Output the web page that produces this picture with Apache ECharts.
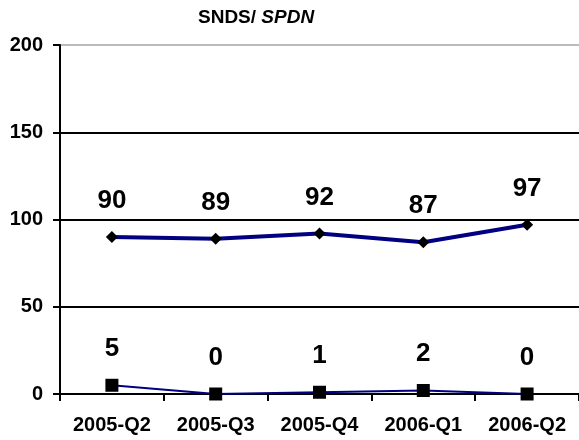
<!DOCTYPE html>
<html><head><meta charset="utf-8">
<script src="https://cdn.jsdelivr.net/npm/echarts@6/dist/echarts.min.js"></script>
<style>html,body{margin:0;padding:0;background:#fff}#c{width:579px;height:440px}</style>
</head><body><div id="c"></div>
<script>
const categories = ['2005-Q2','2005-Q3','2005-Q4','2006-Q1','2006-Q2'];
const snds = [90, 89, 92, 87, 97];
const spdn = [5, 0, 1, 2, 0];
const yTicks = [0, 50, 100, 150, 200];

const chart = echarts.init(document.getElementById('c'));
const F = 'Arial, "Liberation Sans", sans-serif';
chart.setOption({
  animation: false,
  backgroundColor: '#fff',
  title: {
    text: '{a|SNDS/ }{b|SPDN}',
    left: 196, top: 6, padding: [2, 2],
    textStyle: { rich: {
      a: { fontFamily: F, fontWeight: 'bold', fontSize: 19, color: '#000' },
      b: { fontFamily: F, fontWeight: 'bold', fontStyle: 'italic', fontSize: 19, color: '#000' }
    } }
  },
  grid: { left: 60, right: 0, top: 45, bottom: 46, show: false },
  xAxis: {
    type: 'category', data: categories, boundaryGap: true,
    axisLine: { lineStyle: { color: '#000', width: 2 } },
    axisTick: { show: true, length: 7, lineStyle: { color: '#000', width: 2 } },
    axisLabel: { fontFamily: F, fontWeight: 'bold', fontSize: 20, color: '#000', margin: 21 }
  },
  yAxis: {
    type: 'value', min: yTicks[0], max: yTicks[yTicks.length-1], interval: 50,
    axisLine: { show: true, lineStyle: { color: '#000', width: 2 } },
    axisTick: { show: true, length: 7, lineStyle: { color: '#000', width: 2 } },
    axisLabel: { fontFamily: F, fontWeight: 'bold', fontSize: 20, color: '#000', margin: 17 },
    splitLine: { show: true, lineStyle: { color: ['#000','#000','#000','#000','#bbb'], width: 2 } }
  },
  series: [
    {
      name: 'SNDS', type: 'line', data: snds,
      symbol: 'diamond', symbolSize: 12,
      lineStyle: { color: '#000080', width: 4 },
      itemStyle: { color: '#000' },
      label: { show: true, position: 'top', distance: 17, fontFamily: F, fontWeight: 'bold', fontSize: 26, color: '#000' }
    },
    {
      name: 'SPDN', type: 'line', data: spdn,
      symbol: 'rect', symbolSize: 13,
      lineStyle: { color: '#000080', width: 2 },
      itemStyle: { color: '#000' },
      label: { show: true, position: 'top', distance: 17, fontFamily: F, fontWeight: 'bold', fontSize: 26, color: '#000' }
    }
  ]
});
</script></body></html>
